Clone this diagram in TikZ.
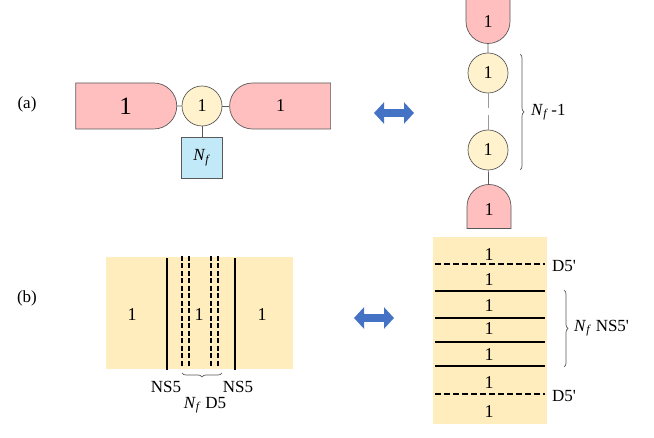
\documentclass[tikz,border=0pt]{standalone}
\usepackage{fontspec}
\setmainfont{Liberation Serif}
\usepackage{tikz}
\usetikzlibrary{arrows.meta,shapes.misc,decorations.pathreplacing}
\definecolor{pinkf}{HTML}{FFBFBF}
\definecolor{yelf}{HTML}{FFF2CC}
\definecolor{bluf}{HTML}{C2E9F8}
\definecolor{sand}{HTML}{FFEDBE}
\definecolor{edge}{HTML}{595959}
\definecolor{arrblue}{HTML}{4472C4}
\newcommand{\Nf}{\textit{N}\textsubscript{\textit{f}}}
\tikzset{
  pnk/.style={draw=edge, fill=pinkf, rounded rectangle, inner sep=0pt,
              minimum height=46pt, minimum width=101pt, line width=0.7pt,
              font=\fontsize{18}{20}\selectfont},
  pnkr/.style={pnk, rounded rectangle west arc=none},
  pnkl/.style={pnk, rounded rectangle east arc=none},
  grp/.style={draw=edge, fill=yelf, circle, inner sep=0pt, minimum size=40pt,
              line width=0.7pt, font=\fontsize{18}{20}\selectfont},
  flv/.style={draw=edge, fill=bluf, rectangle, inner sep=0pt, minimum size=41pt,
              line width=0.7pt, font=\fontsize{17}{20}\selectfont},
  lnk/.style={draw=edge, line width=0.7pt},
  lbl/.style={font=\fontsize{17}{20}\selectfont, inner sep=1pt},
  num/.style={font=\fontsize{18}{20}\selectfont, inner sep=0pt},
  ns/.style={line width=1.6pt},
  dv/.style={line width=1.6pt, dash pattern=on 5pt off 2.5pt},
  dh/.style={line width=1.4pt, dash pattern=on 5.5pt off 3.5pt},
  brc/.style={decorate, decoration={brace, amplitude=4pt}, draw=edge, line width=0.7pt},
  dual/.style={draw=arrblue, line width=8pt,
               {Triangle[length=10pt,width=21pt]}-{Triangle[length=10pt,width=21pt]}}
}
\begin{document}
\begin{tikzpicture}[x=1pt, y=-1pt]
  \useasboundingbox (0,0) rectangle (654,438);

  % (a) quiver
  \node[lbl] (la) at (27,104) {(a)};
  \node[pnkr, font=\fontsize{25}{28}\selectfont] (lp) at (125.5,106) {1};
  \node[grp] (c0) at (202,106) {1};
  \node[pnkl] (rp) at (280.5,106) {1};
  \node[flv] (fl) at (202,157.5) {\Nf};
  \draw[lnk] (lp) -- (c0);
  \draw[lnk] (c0) -- (rp);
  \draw[lnk] (c0) -- (fl);

  \coordinate (a1) at (374,113);
  \coordinate (a2) at (414,113);
  \draw[dual] (a1) -- (a2);

  \node[pnkr, rotate=-90, minimum width=43pt, minimum height=44pt] (tp) at (488,21.5) {};
  \node[num] (tpl) at (tp) {1};
  \node[grp] (c1) at (488,73) {1};
  \node[grp] (c2) at (488,150) {1};
  \node[pnkr, rotate=90, minimum width=43pt, minimum height=44pt] (bp) at (489,206.5) {};
  \node[num] (bpl) at ([yshift=-3pt]bp) {1};
  \draw[lnk] (tp) -- (c1);
  \draw[draw=edge!60, line width=0.6pt, dash pattern=on 15pt off 7pt] (c1) -- (c2);
  \draw[lnk] (c2) -- (bp);
  \coordinate (ba) at (520,54);
  \coordinate (bb) at (520,170);
  \draw[brc] (ba) -- (bb);
  \node[lbl, anchor=west] (nfa) at (530,112) {\Nf\,-1};

  % (b) branes
  \node[lbl] (lb) at (27,298) {(b)};
  \fill[sand] (106,257) rectangle (293,369);
  \draw[ns] (167,258) -- (167,370);
  \draw[ns] (235,258) -- (235,370);
  \foreach \x in {182,189,211,218}
    \draw[dv] (\x,256) -- (\x,368);
  \node[num] (b1) at (132,315) {1};
  \node[num] (b2) at (199,315) {1};
  \node[num] (b3) at (262,315) {1};
  \coordinate (bl) at (182,373);
  \coordinate (br) at (222,373);
  \draw[brc, decoration={mirror}] (bl) -- (br);
  \node[lbl] (ns1) at (166,387) {NS5};
  \node[lbl] (ns2) at (238,387) {NS5};
  \node[lbl] (nd5) at (205,405) {\Nf\ D5};

  \coordinate (b1a) at (354,318);
  \coordinate (b1b) at (394,318);
  \draw[dual] (b1a) -- (b1b);

  \fill[sand] (433,237) rectangle (547,424);
  \draw[dh] (435,264) -- (545,264);
  \draw[dh] (435,394) -- (545,394);
  \foreach \y in {291,318,342,366}
    \draw[ns] (435,\y) -- (545,\y);
  \foreach \y [count=\i] in {255,280,306,329,355,383,412}
    \node[num] (r\i) at (489,\y) {1};
  \node[lbl, anchor=west] (d1) at (551,266) {D5\textquotesingle};
  \node[lbl, anchor=west] (d2) at (551,396) {D5\textquotesingle};
  \coordinate (bc) at (564,290);
  \coordinate (bd) at (564,367);
  \draw[brc] (bc) -- (bd);
  \node[lbl, anchor=west] (nfb) at (573,328) {\Nf\ NS5\textquotesingle};
\end{tikzpicture}
\end{document}
